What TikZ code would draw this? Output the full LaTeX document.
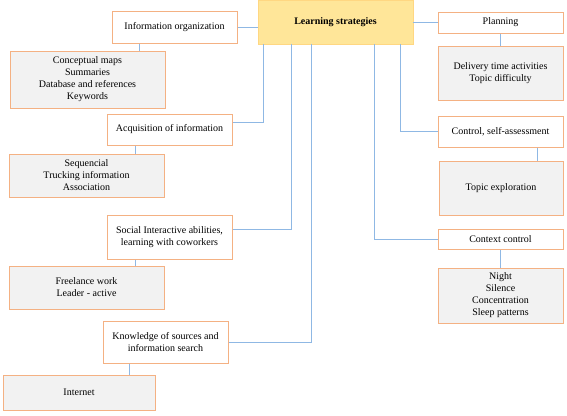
\documentclass[tikz,border=0pt]{standalone}
\usepackage{fontspec}
\setmainfont{Liberation Serif}
\begin{document}
\begin{tikzpicture}[x=1pt,y=-1pt,
  box/.style={draw=boxorange,line width=1pt,fill=white,inner sep=0pt,align=center,font=\fontsize{10}{12}\selectfont},
  gbox/.style={box,fill=boxgray},
  conn/.style={draw=linkblue,line width=0.9pt}]
\definecolor{boxorange}{HTML}{F4B183}
\definecolor{boxgray}{HTML}{F2F2F2}
\definecolor{linkblue}{HTML}{8FB8E4}
\definecolor{centeryellow}{HTML}{FFE699}
\useasboundingbox (0,0) rectangle (567,415);
% center
\node[box,draw=centeryellow!85!orange,fill=centeryellow,line width=0.6pt,minimum width=155pt,minimum height=44pt,font=\fontsize{10}{12}\selectfont\bfseries] (ls) at (335.5,22) {Learning strategies};
% left column
\node[box,minimum width=125pt,minimum height=32pt] (io) at (174.5,27) {Information organization};
\node[gbox,minimum width=155pt,minimum height=57pt] (cm) at (87.5,79.5) {Conceptual maps\\Summaries\\Database and references\\Keywords};
\node[box,minimum width=125pt,minimum height=31pt] (ai) at (169.5,129.5) {Acquisition of information};
\node[gbox,minimum width=155pt,minimum height=43pt] (sq) at (86.5,175.5) {Sequencial\\Trucking information\\Association};
\node[box,minimum width=125pt,minimum height=44pt] (si) at (169.5,237) {Social Interactive abilities,\\learning with coworkers};
\node[gbox,minimum width=155pt,minimum height=43pt] (fw) at (86.5,287.5) {Freelance work\\Leader - active};
\node[box,minimum width=125pt,minimum height=42pt] (ks) at (165.5,342) {Knowledge of sources and\\information search};
\node[gbox,minimum width=152pt,minimum height=35pt] (in) at (79,392.5) {Internet};
% right column
\node[box,minimum width=125pt,minimum height=21pt] (pl) at (500.5,22.5) {Planning};
\node[gbox,minimum width=125pt,minimum height=54pt] (dt) at (500.5,73) {Delivery time activities\\Topic difficulty};
\node[box,minimum width=125pt,minimum height=31pt] (cs) at (500.5,131.5) {Control, self-assessment};
\node[gbox,minimum width=124pt,minimum height=54pt] (te) at (501,188) {Topic exploration};
\node[box,minimum width=125pt,minimum height=20pt] (cc) at (500.5,239) {Context control};
\node[gbox,minimum width=125pt,minimum height=55pt] (ni) at (500.5,295.5) {Night\\Silence\\Concentration\\Sleep patterns};
% connectors to center
\coordinate (c1) at (263,44);
\coordinate (c2) at (291,44);
\coordinate (c3) at (311,44);
\coordinate (c4) at (374,44);
\coordinate (c5) at (400,44);
\draw[conn] (io.east) -- (io.east -| ls.west);
\draw[conn] (ai.east |- 0,122) -| (c1);
\draw[conn] (si.east |- 0,229) -| (c2);
\draw[conn] (ks.east) -| (c3);
\draw[conn] (cc.west) -| (c4);
\draw[conn] (cs.west) -| (c5);
\draw[conn] (pl.west) -- (pl.west -| ls.east);
% connectors to detail boxes
\draw[conn] (io.south -| 139,0) -- (cm.north -| 139,0);
\draw[conn] (ai.south -| 135,0) -- (sq.north -| 135,0);
\draw[conn] (si.south -| 135,0) -- (fw.north -| 135,0);
\draw[conn] (ks.south -| 129,0) -- (in.north -| 129,0);
\draw[conn] (pl.south) -- (pl.south |- dt.north);
\draw[conn] (cs.south -| 537,0) -- (te.north -| 537,0);
\draw[conn] (cc.south) -- (cc.south |- ni.north);
\end{tikzpicture}
\end{document}
